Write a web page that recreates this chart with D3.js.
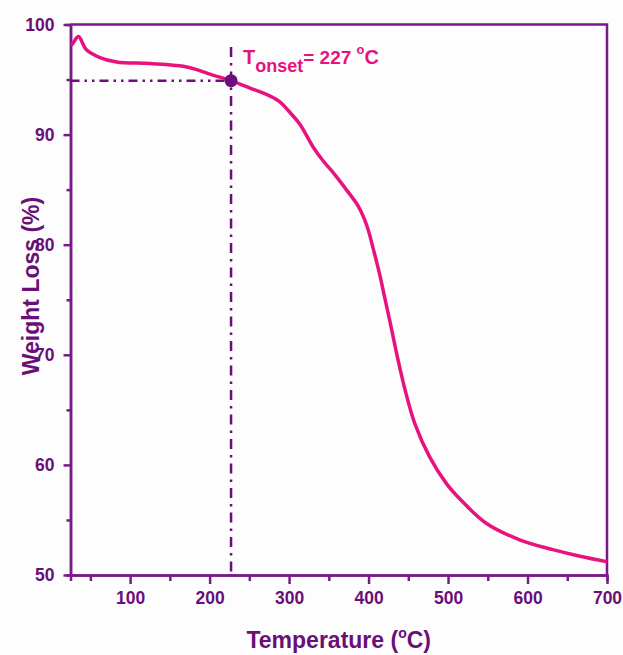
<!DOCTYPE html>
<html>
<head>
<meta charset="utf-8">
<script src="https://cdn.jsdelivr.net/npm/d3@7"></script>
<style>
  html, body { margin: 0; padding: 0; background: #fdfdfd; }
  svg { display: block; font-family: "Liberation Sans", Arial, sans-serif; }
  .tick text { font-weight: bold; }
</style>
</head>
<body>
<svg id="chart" width="623" height="655"></svg>
<script>
// ── データ─────────────────────────────────
const temps   = [26, 29, 35, 45, 62, 83, 125, 167, 184, 204, 227, 255, 270, 288, 300, 314, 330, 343, 356, 372, 387, 398, 406, 414, 420, 427, 436, 446, 458, 477, 498, 515, 548, 590, 632, 666, 700];
const weights = [98.1, 98.4, 98.9, 97.7, 97.0, 96.6, 96.45, 96.2, 95.9, 95.4, 94.9, 94.1, 93.7, 93.0, 92.1, 90.9, 88.9, 87.6, 86.5, 85.0, 83.5, 81.7, 79.6, 77.3, 75.3, 73.0, 69.9, 66.8, 63.8, 60.7, 58.3, 56.9, 54.7, 53.2, 52.3, 51.7, 51.2];

const xMajor = [100, 200, 300, 400, 500, 600, 700];
const xMinor = [50, 150, 250, 350, 450, 550, 650];
const yMajor = [50, 60, 70, 80, 90, 100];
const yMinor = [55, 65, 75, 85, 95];

const onsetT = 227;
const onsetW = 94.9;
const onsetLabel = { main: 'T', sub: 'onset', rest: '= 227 ', sup: 'o', unit: 'C' };

// ── 色・レイアウト ──────────────────────
const AXIS  = '#7a1a8a';
const TEXT  = '#6a0f78';
const CURVE = '#e8127f';
const M = { left: 70.5, right: 607, top: 24.5, bottom: 575 };

const svg = d3.select('#chart');

const x = d3.scaleLinear().domain([25, 700]).range([M.left, M.right]);
const y = d3.scaleLinear().domain([50, 100]).range([M.bottom, M.top]);

// clip
svg.append('defs').append('clipPath').attr('id', 'plot-clip')
  .append('rect')
  .attr('x', M.left).attr('y', M.top)
  .attr('width', M.right - M.left).attr('height', M.bottom - M.top);

// Axes (major + minor)
const styleAxis = g => {
  g.select('.domain').attr('stroke', AXIS).attr('stroke-width', 2.5);
  g.selectAll('.tick line').attr('stroke', AXIS).attr('stroke-width', 2.5);
  g.selectAll('.tick text').attr('fill', TEXT).attr('font-size', 17.5);
};

svg.append('g')
  .attr('transform', `translate(0,${M.bottom})`)
  .call(d3.axisBottom(x).tickValues(xMinor).tickSize(6).tickFormat(''))
  .call(styleAxis);
svg.append('g')
  .attr('transform', `translate(0,${M.bottom})`)
  .call(d3.axisBottom(x).tickValues(xMajor).tickSize(9).tickSizeOuter(0).tickPadding(8))
  .call(styleAxis);

svg.append('g')
  .attr('transform', `translate(${M.left},0)`)
  .call(d3.axisLeft(y).tickValues(yMinor).tickSize(4).tickFormat(''))
  .call(styleAxis);
svg.append('g')
  .attr('transform', `translate(${M.left},0)`)
  .call(d3.axisLeft(y).tickValues(yMajor).tickSize(7).tickSizeOuter(0).tickPadding(9))
  .call(styleAxis);

// 上・右の枠線
svg.append('path')
  .attr('d', `M${M.left},${M.top}H${M.right}V${M.bottom}`)
  .attr('fill', 'none').attr('stroke', AXIS).attr('stroke-width', 2.5);

// Onset guide lines
svg.append('line')
  .attr('x1', M.left).attr('x2', x(onsetT))
  .attr('y1', y(onsetW)).attr('y2', y(onsetW))
  .attr('stroke', TEXT).attr('stroke-width', 2.5)
  .attr('stroke-dasharray', '9,5,2.5,5,2.5,5');
svg.append('line')
  .attr('x1', x(onsetT)).attr('x2', x(onsetT))
  .attr('y1', 47).attr('y2', M.bottom)
  .attr('stroke', TEXT).attr('stroke-width', 2.5)
  .attr('stroke-dasharray', '10,6,2.5,6');

// TGA curve
const line = d3.line()
  .x((d, i) => x(temps[i]))
  .y(d => y(d))
  .curve(d3.curveCatmullRom.alpha(0.5));

svg.append('path')
  .datum(weights)
  .attr('clip-path', 'url(#plot-clip)')
  .attr('d', line)
  .attr('fill', 'none')
  .attr('stroke', CURVE)
  .attr('stroke-width', 3.5)
  .attr('stroke-linejoin', 'round');

// onset point
svg.append('circle')
  .attr('cx', x(onsetT)).attr('cy', y(onsetW)).attr('r', 6.5)
  .attr('fill', '#6b0d7c');

// annotation
const ann = svg.append('text')
  .attr('x', 243).attr('y', 64)
  .attr('fill', CURVE).attr('font-weight', 'bold').attr('font-size', 20);
ann.append('tspan').text(onsetLabel.main);
ann.append('tspan').attr('dy', 8).attr('font-size', 18).text(onsetLabel.sub);
ann.append('tspan').attr('dy', -8).attr('font-size', 19).text(onsetLabel.rest);
ann.append('tspan').attr('dy', -10).attr('font-size', 13).text(onsetLabel.sup);
ann.append('tspan').attr('dy', 10).attr('font-size', 20).text(onsetLabel.unit);

// Axis titles
const xt = svg.append('text')
  .attr('x', (M.left + M.right) / 2).attr('y', 648)
  .attr('text-anchor', 'middle')
  .attr('fill', TEXT).attr('font-weight', 'bold').attr('font-size', 23);
xt.append('tspan').text('Temperature (');
xt.append('tspan').attr('dy', -10).attr('font-size', 14).text('o');
xt.append('tspan').attr('dy', 10).text('C)');

svg.append('text')
  .attr('transform', 'translate(39,286) rotate(-90)')
  .attr('text-anchor', 'middle')
  .attr('fill', TEXT).attr('font-weight', 'bold').attr('font-size', 23)
  .text('Weight Loss (%)');
</script>
</body>
</html>
